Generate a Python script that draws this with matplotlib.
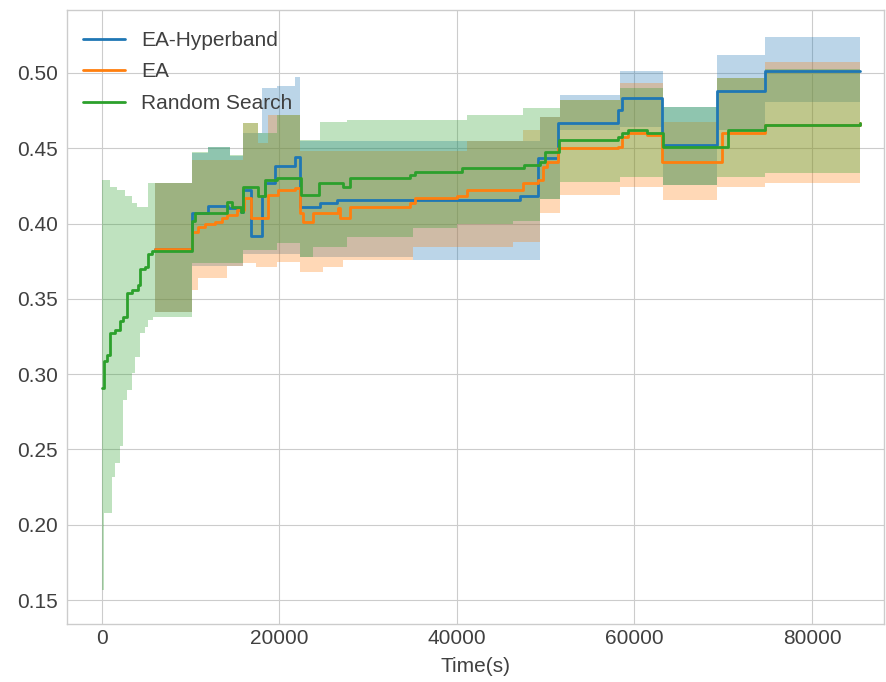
import matplotlib
matplotlib.use("Agg")
import matplotlib.pyplot as plt

plt.style.use("seaborn-v0_8-whitegrid")
plt.rcParams["font.family"] = ["Liberation Sans", "DejaVu Sans"]

# mean best score over time, step-wise (held until next change)
hb_t = [6000, 10100, 11950, 14200, 15650, 15900, 16800, 18000, 18400, 19500,
        21750, 22300, 24600, 26500, 47100, 49100, 51400, 58100, 58600, 63100,
        69300, 74700, 85400]
hb_mean = [0.383, 0.4068, 0.4117, 0.410, 0.408, 0.422, 0.392, 0.418, 0.427, 0.438,
           0.4445, 0.411, 0.4135, 0.4157, 0.418, 0.4435, 0.4666, 0.4754, 0.4832, 0.4522,
           0.488, 0.5015, 0.5015]

ea_t = [6000, 10100, 10800, 11600, 12700, 13500, 14100, 15200, 16000, 16800,
        18700, 19800, 21750, 22300, 22650, 23800, 26600, 26800, 27950, 34700,
        35300, 40000, 41100, 47400, 49100, 49700, 50100, 51400, 58100, 58600,
        59300, 61400, 63100, 69900, 74700, 85400]
ea_mean = [0.383, 0.3946, 0.398, 0.400, 0.401, 0.4035, 0.4057, 0.409, 0.4168, 0.4035,
           0.419, 0.4223, 0.4234, 0.407, 0.401, 0.4068, 0.410, 0.4035, 0.4112, 0.4135,
           0.4168, 0.418, 0.4223, 0.4268, 0.429, 0.4378, 0.441, 0.450, 0.451, 0.4577,
           0.460, 0.459, 0.4411, 0.460, 0.4655, 0.467]

rs_t = [0, 260, 530, 900, 1460, 2030, 2370, 2780, 3350, 4060,
        4280, 4850, 5180, 5630, 10100, 10500, 14100, 14600, 15700, 15900,
        17600, 18400, 19700, 22400, 24400, 27200, 27900, 34700, 35300, 40600,
        47500, 49300, 49900, 51500, 58100, 58600, 59300, 61400, 63200, 70500,
        74700, 85400]
rs_mean = [0.291, 0.309, 0.313, 0.327, 0.329, 0.335, 0.338, 0.354, 0.356, 0.359,
           0.370, 0.371, 0.380, 0.382, 0.402, 0.407, 0.4145, 0.411, 0.408, 0.4245,
           0.418, 0.429, 0.430, 0.419, 0.427, 0.4245, 0.430, 0.432, 0.4345, 0.437,
           0.439, 0.441, 0.4478, 0.4555, 0.4575, 0.460, 0.462, 0.460, 0.451, 0.462,
           0.4655, 0.467]

# spread bands (lower / upper)
hb_band_t = [6000, 10100, 11900, 14400, 15900, 18000, 19700, 21750, 22300, 35000,
             49350, 51600, 58400, 63200, 69300, 74700, 85400]
hb_lo = [0.341, 0.372, 0.372, 0.372, 0.380, 0.380, 0.380, 0.380, 0.378, 0.376,
         0.416, 0.462, 0.464, 0.4256, 0.462, 0.481, 0.481]
hb_hi = [0.427, 0.447, 0.451, 0.445, 0.460, 0.490, 0.4915, 0.497, 0.455, 0.455,
         0.471, 0.4854, 0.501, 0.4777, 0.512, 0.524, 0.524]

ea_band_t = [6000, 10100, 10800, 14100, 15900, 17400, 17600, 18700, 19700, 22300,
             24900, 27200, 35000, 41100, 46300, 47400, 49350, 51600, 58400, 63200,
             69300, 74700, 85400]
ea_lo = [0.341, 0.356, 0.364, 0.372, 0.374, 0.371, 0.371, 0.371, 0.3745, 0.368,
         0.371, 0.376, 0.3845, 0.3845, 0.388, 0.388, 0.407, 0.419, 0.4243, 0.4157,
         0.424, 0.427, 0.427]
ea_hi = [0.427, 0.442, 0.442, 0.442, 0.467, 0.467, 0.4535, 0.472, 0.472, 0.448,
         0.448, 0.448, 0.448, 0.455, 0.455, 0.462, 0.471, 0.482, 0.493, 0.4675,
         0.4967, 0.5075, 0.5075]

rs_band_t = [0, 200, 900, 1090, 1460, 1650, 2030, 2370, 2590, 2780,
             3350, 3720, 3900, 4280, 4850, 5180, 5750, 10100, 11900, 14400,
             15900, 17600, 19700, 22300, 23800, 24600, 27600, 35000, 40000, 41100,
             46300, 47400, 49350, 51600, 58400, 63200, 69300, 74700, 85400]
rs_lo = [0.157, 0.208, 0.208, 0.232, 0.241, 0.241, 0.252, 0.283, 0.283, 0.2895,
         0.3008, 0.3116, 0.3116, 0.327, 0.3315, 0.336, 0.338, 0.374, 0.374, 0.374,
         0.3825, 0.3825, 0.387, 0.378, 0.3845, 0.3845, 0.391, 0.397, 0.400, 0.400,
         0.402, 0.402, 0.416, 0.4276, 0.431, 0.4256, 0.431, 0.4336, 0.4336]
rs_hi = [0.429, 0.429, 0.4245, 0.4245, 0.4245, 0.422, 0.422, 0.422, 0.418, 0.418,
         0.4137, 0.4137, 0.411, 0.411, 0.411, 0.427, 0.427, 0.4477, 0.451, 0.4455,
         0.467, 0.460, 0.472, 0.4555, 0.4555, 0.4675, 0.469, 0.469, 0.469, 0.472,
         0.472, 0.4765, 0.4765, 0.482, 0.490, 0.4777, 0.4967, 0.5025, 0.5025]

fig = plt.figure(figsize=(8.87, 6.82), dpi=100)
ax = fig.add_axes([67 / 887, 58 / 682, 817 / 887, 614 / 682])

series = [
    ("EA-Hyperband", "#1f77b4", hb_t, hb_mean, hb_band_t, hb_lo, hb_hi),
    ("EA", "#ff7f0e", ea_t, ea_mean, ea_band_t, ea_lo, ea_hi),
    ("Random Search", "#2ca02c", rs_t, rs_mean, rs_band_t, rs_lo, rs_hi),
]
for name, col, t, m, bt, lo, hi in series:
    ax.fill_between(bt, lo, hi, step="post", color=col, alpha=0.3, linewidth=0)
for name, col, t, m, bt, lo, hi in series:
    ax.step(t, m, where="post", color=col, linewidth=2, label=name)

ax.set_xlim(-3944, 88114)
ax.set_ylim(0.1341, 0.5418)
ax.set_yticks([0.15, 0.20, 0.25, 0.30, 0.35, 0.40, 0.45, 0.50])
ax.set_xticks([0, 20000, 40000, 60000, 80000])
ax.tick_params(labelsize=15, colors="0.25")
ax.tick_params(axis="y", pad=6.5)
ax.set_xlabel("Time(s)", fontsize=15, color="0.25", labelpad=6.5)
for s in ax.spines.values():
    s.set_visible(True)
    s.set_color("0.8")

leg = ax.legend(loc="upper left", bbox_to_anchor=(-0.006, 1.0), fontsize=15,
                frameon=False, labelspacing=0.6, borderaxespad=0.6)
for txt in leg.get_texts():
    txt.set_color("0.25")

fig.savefig("out.png", dpi=100)
